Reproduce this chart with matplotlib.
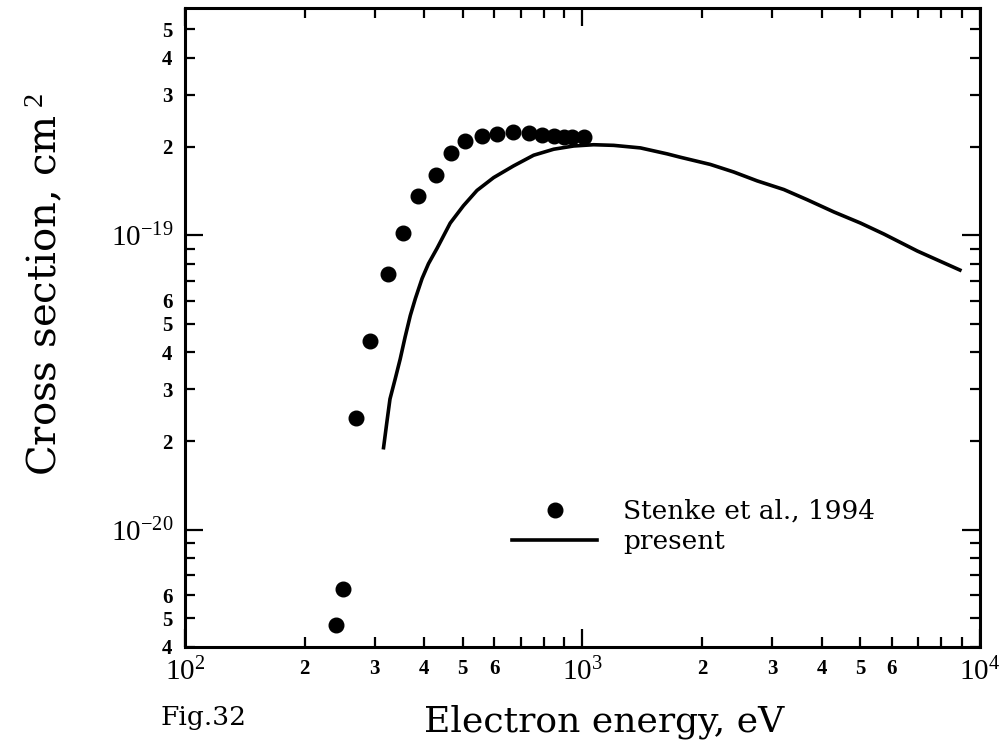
import numpy as np
import matplotlib
matplotlib.use('Agg')
import matplotlib.pyplot as plt
from matplotlib.ticker import LogLocator, FuncFormatter

plt.rcParams['font.family'] = ['Liberation Serif', 'DejaVu Serif']
plt.rcParams['mathtext.fontset'] = 'custom'
plt.rcParams['mathtext.rm'] = 'Liberation Serif'
plt.rcParams['mathtext.it'] = 'Liberation Serif:italic'
LABEL_FONT = ['DejaVu Serif']

# Stenke et al., 1994 measurements
stenke_energy = [240, 250, 270, 292, 324, 354, 385, 427, 467, 507, 559, 609,
                 669, 735, 791, 847, 898, 942, 1007]
stenke_sigma = [4.74e-21, 6.3e-21, 2.39e-20, 4.38e-20, 7.36e-20, 1.02e-19,
                1.36e-19, 1.60e-19, 1.91e-19, 2.09e-19, 2.17e-19, 2.21e-19,
                2.25e-19, 2.22e-19, 2.19e-19, 2.17e-19, 2.16e-19, 2.16e-19,
                2.16e-19]

# present calculation
calc_energy = [316, 322, 328, 338, 348, 358, 369, 380, 395, 410, 431, 465,
               502, 543, 598, 671, 754, 847, 951, 1067, 1199, 1400, 1634,
               1766, 2099, 2404, 2754, 3213, 3681, 4295, 5012, 5736, 6967,
               8912]
calc_sigma = [1.90e-20, 2.31e-20, 2.78e-20, 3.25e-20, 3.80e-20, 4.51e-20,
              5.34e-20, 6.10e-20, 7.13e-20, 8.01e-20, 9.04e-20, 1.10e-19,
              1.26e-19, 1.42e-19, 1.57e-19, 1.72e-19, 1.87e-19, 1.96e-19,
              2.01e-19, 2.03e-19, 2.02e-19, 1.98e-19, 1.89e-19, 1.84e-19,
              1.74e-19, 1.64e-19, 1.53e-19, 1.43e-19, 1.32e-19, 1.20e-19,
              1.10e-19, 1.01e-19, 8.84e-20, 7.62e-20]

fig = plt.figure(figsize=(10.08, 7.51), dpi=100)
ax = fig.add_axes([0.1835, 0.1385, 0.7885, 0.8505])

ax.plot(stenke_energy, stenke_sigma, 'o', color='black', markersize=10.5,
        linestyle='none', label='Stenke et al., 1994')
ax.plot(calc_energy, calc_sigma, '-', color='black', linewidth=2.6,
        solid_joinstyle='round', label='present')

ax.set_xscale('log')
ax.set_yscale('log')
ax.set_xlim(100, 1e4)
ax.set_ylim(4e-21, 5.9e-19)


def major_fmt(v, pos):
    return r'$\mathregular{10^{%d}}$' % int(round(np.log10(v)))


def minor_fmt(v, pos):
    m = v / 10 ** np.floor(np.log10(v) + 1e-9)
    m = int(round(m))
    return str(m) if 2 <= m <= 6 else ''


for axis in (ax.xaxis, ax.yaxis):
    axis.set_major_locator(LogLocator(base=10))
    axis.set_minor_locator(LogLocator(base=10, subs=np.arange(2, 10)))
    axis.set_major_formatter(FuncFormatter(major_fmt))
    axis.set_minor_formatter(FuncFormatter(minor_fmt))

ax.tick_params(which='both', direction='in', top=True, right=True,
               width=1.6, color='black')
ax.tick_params(which='major', length=13, labelsize=21, pad=8)
ax.tick_params(which='minor', length=7, labelsize=15, pad=9)
for lab in ax.get_xticklabels(minor=True) + ax.get_yticklabels(minor=True):
    lab.set_fontweight('bold')
for sp in ax.spines.values():
    sp.set_linewidth(2.2)

ax.set_xlabel('Electron energy, eV', fontsize=26, family=LABEL_FONT)
ax.xaxis.set_label_coords(0.527, -0.09)
ax.set_ylabel(r'Cross section, cm$^{\ 2}$', fontsize=29, family=LABEL_FONT)
ax.yaxis.set_label_coords(-0.152, 0.567)

fig.text(0.159, 0.035, 'Fig.32', fontsize=19, family=LABEL_FONT)

ax.legend(loc='upper left', bbox_to_anchor=(0.412, 0.232), frameon=False,
          prop={'family': LABEL_FONT, 'size': 19}, handlelength=3.2,
          handletextpad=1.0, labelspacing=0.2, numpoints=1, borderpad=0,
          borderaxespad=0)

fig.savefig('out.png', dpi=100)
